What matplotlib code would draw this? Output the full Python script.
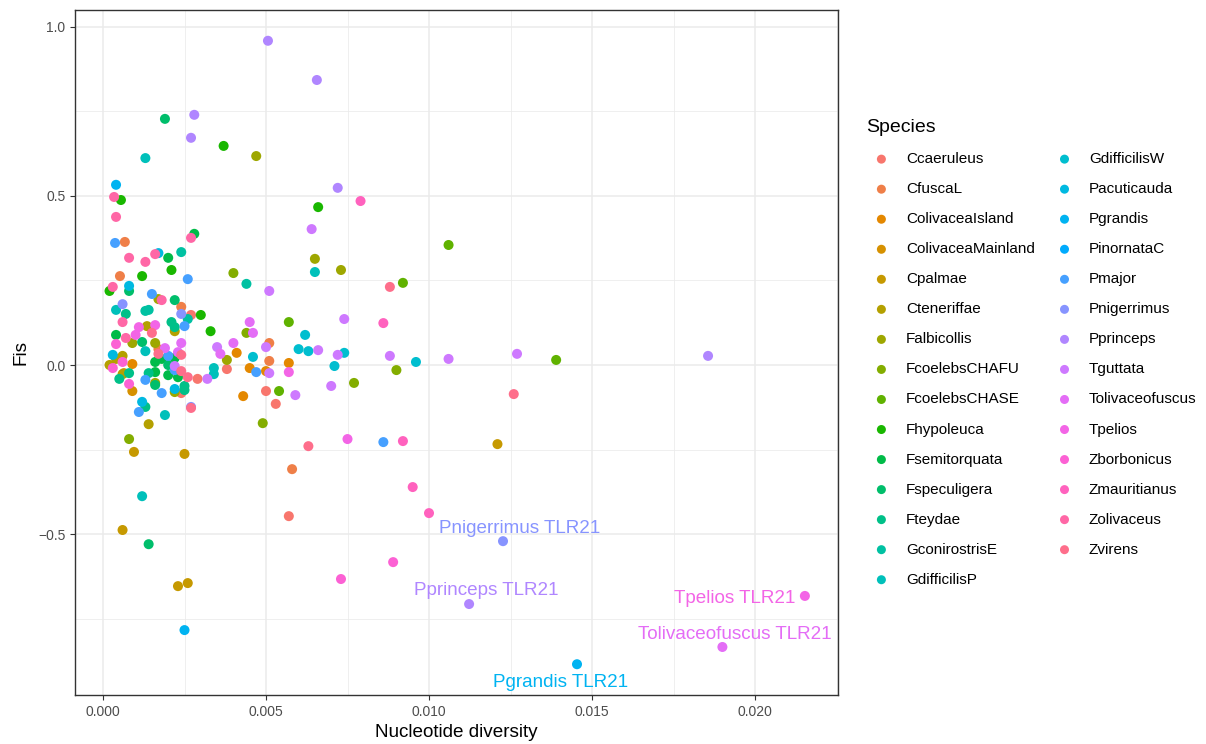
import numpy as np
import matplotlib.pyplot as plt
from matplotlib.ticker import MultipleLocator

plt.rcParams['font.family'] = ['Liberation Sans', 'DejaVu Sans']

species = ['Ccaeruleus', 'CfuscaL', 'ColivaceaIsland', 'ColivaceaMainland', 'Cpalmae',
           'Cteneriffae', 'Falbicollis', 'FcoelebsCHAFU', 'FcoelebsCHASE', 'Fhypoleuca',
           'Fsemitorquata', 'Fspeculigera', 'Fteydae', 'GconirostrisE', 'GdifficilisP',
           'GdifficilisW', 'Pacuticauda', 'Pgrandis', 'PinornataC', 'Pmajor',
           'Pnigerrimus', 'Pprinceps', 'Tguttata', 'Tolivaceofuscus', 'Tpelios',
           'Zborbonicus', 'Zmauritianus', 'Zolivaceus', 'Zvirens']

# nucleotide diversity (x) and Fis (y) per species
pi = {
    'Ccaeruleus': [0.0027, 0.0029, 0.0038, 0.0053, 0.0057, 0.0050, 0.0024],
    'CfuscaL': [0.00067, 0.00052, 0.0024, 0.0017, 0.0051, 0.0051, 0.0058],
    'ColivaceaIsland': [0.0041, 0.0045, 0.0043, 0.0057, 0.0050, 0.0009],
    'ColivaceaMainland': [0.00064, 0.0009],
    'Cpalmae': [0.00095, 0.0006, 0.0023, 0.0026, 0.0025, 0.0121],
    'Cteneriffae': [0.0014, 0.00135, 0.0022, 0.0006, 0.0004, 0.0002, 0.0006],
    'Falbicollis': [0.0047, 0.0073, 0.0065, 0.0009, 0.0016, 0.0016, 0.0022, 0.0038, 0.0017],
    'FcoelebsCHAFU': [0.0008, 0.0040, 0.0044, 0.0049, 0.0077, 0.0090],
    'FcoelebsCHASE': [0.0106, 0.0139, 0.0054, 0.0057, 0.0092],
    'Fhypoleuca': [0.00055, 0.0002, 0.0037, 0.0066, 0.0021, 0.0012, 0.0033, 0.0030],
    'Fsemitorquata': [0.0020, 0.0028, 0.0016, 0.0018, 0.0022, 0.0016, 0.0020, 0.0023, 0.0004],
    'Fspeculigera': [0.0019, 0.0012, 0.0020, 0.0016, 0.0014, 0.0008, 0.0022],
    'Fteydae': [0.0007, 0.0021, 0.0022, 0.0025, 0.0025, 0.0013, 0.0005, 0.0008, 0.0014],
    'GconirostrisE': [0.0024, 0.0044, 0.0026, 0.0013, 0.0014],
    'GdifficilisP': [0.0013, 0.0065, 0.0013, 0.0004, 0.0019, 0.0012, 0.0034, 0.0034],
    'GdifficilisW': [0.0062, 0.0060, 0.0063, 0.0074, 0.0071, 0.0046, 0.0096],
    'Pacuticauda': [0.0003, 0.0012, 0.0022, 0.0017, 0.0008],
    'Pgrandis': [0.01454, 0.0025, 0.0004],
    'PinornataC': [],
    'Pmajor': [0.00037, 0.0026, 0.0015, 0.0025, 0.0020, 0.0022, 0.0013, 0.0011, 0.0018, 0.0047, 0.0086],
    'Pnigerrimus': [0.0006, 0.0024, 0.0027, 0.01227],
    'Pprinceps': [0.00506, 0.00656, 0.0028, 0.0027, 0.0072, 0.01123, 0.01856],
    'Tguttata': [0.0064, 0.0051, 0.0074, 0.0050, 0.0066, 0.0072, 0.0088, 0.0070, 0.0059,
                 0.0106, 0.0127, 0.0051, 0.0032, 0.0035, 0.0022],
    'Tolivaceofuscus': [0.0190, 0.0045, 0.0046, 0.0040, 0.0036, 0.0024, 0.0023, 0.0019],
    'Tpelios': [0.02153, 0.0075, 0.0057, 0.0016, 0.0011, 0.0010],
    'Zborbonicus': [0.0073, 0.0089, 0.0004, 0.0006, 0.0003, 0.0008],
    'Zmauritianus': [0.0092, 0.0095, 0.0100, 0.0086, 0.0079],
    'Zolivaceus': [0.00034, 0.0004, 0.0008, 0.0013, 0.0016, 0.0027, 0.0003, 0.0018, 0.0006, 0.0007],
    'Zvirens': [0.0088, 0.0126, 0.0063, 0.0017, 0.0024, 0.0024, 0.0026, 0.0015, 0.0027],
}
fis = {
    'Ccaeruleus': [0.148, -0.041, -0.012, -0.115, -0.447, -0.077, -0.083],
    'CfuscaL': [0.364, 0.263, 0.172, 0.047, 0.065, 0.012, -0.308],
    'ColivaceaIsland': [0.036, -0.009, -0.092, 0.006, -0.018, 0.003],
    'ColivaceaMainland': [-0.024, -0.077],
    'Cpalmae': [-0.257, -0.488, -0.654, -0.645, -0.263, -0.234],
    'Cteneriffae': [-0.175, 0.115, 0.100, 0.027, 0.018, 0.000, -0.027],
    'Falbicollis': [0.618, 0.281, 0.314, 0.065, 0.065, -0.053, -0.080, 0.015, 0.195],
    'FcoelebsCHAFU': [-0.219, 0.272, 0.095, -0.172, -0.053, -0.015],
    'FcoelebsCHASE': [0.355, 0.015, -0.077, 0.127, 0.243],
    'Fhypoleuca': [0.488, 0.219, 0.648, 0.467, 0.281, 0.263, 0.100, 0.148],
    'Fsemitorquata': [0.317, 0.388, 0.009, 0.018, 0.021, -0.021, -0.030, -0.036, 0.089],
    'Fspeculigera': [0.728, 0.068, 0.000, -0.059, -0.530, 0.219, 0.192],
    'Fteydae': [0.151, 0.127, 0.112, -0.062, -0.074, -0.124, -0.041, -0.024, -0.024],
    'GconirostrisE': [0.334, 0.240, 0.136, 0.160, 0.163],
    'GdifficilisP': [0.612, 0.275, 0.041, 0.163, -0.148, -0.388, -0.009, -0.027],
    'GdifficilisW': [0.089, 0.047, 0.041, 0.036, -0.003, 0.024, 0.009],
    'Pacuticauda': [0.030, -0.109, -0.071, 0.331, 0.234],
    'Pgrandis': [-0.885, -0.784, 0.533],
    'PinornataC': [],
    'Pmajor': [0.361, 0.254, 0.210, 0.115, 0.027, -0.015, -0.044, -0.139, -0.083, -0.021, -0.228],
    'Pnigerrimus': [0.180, 0.151, -0.124, -0.521],
    'Pprinceps': [0.959, 0.843, 0.740, 0.672, 0.524, -0.707, 0.027],
    'Tguttata': [0.402, 0.219, 0.136, 0.053, 0.044, 0.030, 0.027, -0.062, -0.089,
                 0.018, 0.033, -0.024, -0.041, 0.053, -0.003],
    'Tolivaceofuscus': [-0.834, 0.127, 0.095, 0.065, 0.033, 0.065, 0.038, 0.050],
    'Tpelios': [-0.683, -0.219, -0.021, 0.118, 0.112, 0.089],
    'Zborbonicus': [-0.633, -0.583, 0.062, 0.009, -0.009, -0.056],
    'Zmauritianus': [-0.225, -0.361, -0.438, 0.124, 0.485],
    'Zolivaceus': [0.497, 0.438, 0.317, 0.305, 0.328, 0.376, 0.231, 0.192, 0.127, 0.080],
    'Zvirens': [0.231, -0.086, -0.240, 0.033, 0.030, -0.018, -0.036, 0.095, -0.127],
}

# TLR21 outliers that get a text label
labelled = [('Pnigerrimus', 3), ('Pprinceps', 5), ('Tpelios', 0),
            ('Tolivaceofuscus', 0), ('Pgrandis', 0)]


def hue_pal(n, l=65, c=100):
    # ggplot2 default discrete palette (hcl colours)
    h = np.deg2rad(np.linspace(15, 375, n + 1)[:-1])
    u = c * np.cos(h)
    v = c * np.sin(h)
    xn, yn, zn = 95.047, 100.0, 108.883
    un = 4 * xn / (xn + 15 * yn + 3 * zn)
    vn = 9 * yn / (xn + 15 * yn + 3 * zn)
    Y = yn * ((l + 16) / 116) ** 3
    up = u / (13 * l) + un
    vp = v / (13 * l) + vn
    X = Y * 9 * up / (4 * vp)
    Z = Y * (12 - 3 * up - 20 * vp) / (4 * vp)
    xyz = np.stack([X, np.full_like(X, Y), Z], axis=1) / 100
    m = np.array([[3.2404542, -1.5371385, -0.4985314],
                  [-0.9692660, 1.8760108, 0.0415560],
                  [0.0556434, -0.2040259, 1.0572252]])
    rgb = xyz @ m.T
    rgb = np.where(rgb <= 0.0031308, 12.92 * rgb, 1.055 * np.clip(rgb, 0, None) ** (1 / 2.4) - 0.055)
    return np.clip(rgb, 0, 1)


colors = dict(zip(species, hue_pal(len(species))))

fig = plt.figure(figsize=(12.06, 7.44), dpi=100)
ax = fig.add_axes([75 / 1206, 1 - 695 / 744, (838 - 75) / 1206, (695 - 10) / 744])

for sp in species:
    ax.scatter(pi[sp], fis[sp], s=52, color=colors[sp], edgecolors='none',
               label=sp, zorder=3)

offsets = {'Pnigerrimus': (12, 9, 'center'), 'Pprinceps': (12, 9.5, 'center'),
           'Tpelios': (-7, -2, 'right'), 'Tolivaceofuscus': (9, 9, 'center'),
           'Pgrandis': (-12, -13, 'center')}
for sp, i in labelled:
    dx, dy, ha = offsets[sp]
    ax.annotate(f'{sp} TLR21', (pi[sp][i], fis[sp][i]), xytext=(dx, dy),
                textcoords='offset points', ha=ha, va='center',
                color=colors[sp], fontsize=13.6, zorder=4)

ax.set_xlim(-0.000859, 0.022546)
ax.set_ylim(-0.976, 1.050)
ax.xaxis.set_minor_locator(MultipleLocator(0.0025))
ax.yaxis.set_minor_locator(MultipleLocator(0.25))
ax.set_xticks([0.0, 0.005, 0.01, 0.015, 0.02])
ax.set_xticklabels(['0.000', '0.005', '0.010', '0.015', '0.020'])
ax.set_yticks([-0.5, 0.0, 0.5, 1.0])
ax.set_yticklabels(['\u22120.5', '0.0', '0.5', '1.0'])

ax.grid(True, which='major', color='#ebebeb', linewidth=1.1, zorder=0)
ax.grid(True, which='minor', color='#ebebeb', linewidth=0.55, zorder=0)
ax.set_axisbelow(True)
for s in ax.spines.values():
    s.set_color('#333333')
    s.set_linewidth(1.0)
ax.tick_params(which='major', length=3.5, color='#333333', labelsize=10,
               labelcolor='#4d4d4d', width=0.8)
ax.tick_params(which='minor', length=0)

ax.set_xlabel('Nucleotide diversity', fontsize=13.6, labelpad=4)
ax.set_ylabel('Fis', fontsize=13.6, labelpad=6)

fig.legend(loc='upper left', bbox_to_anchor=(860 / 1206, 1 - 113 / 744), ncol=2,
           frameon=False, title='Species', title_fontsize=14, fontsize=11,
           labelspacing=1.05, handletextpad=0.6, columnspacing=0.95,
           markerscale=0.9, alignment='left', borderaxespad=0)

fig.savefig('out.png', dpi=100)
